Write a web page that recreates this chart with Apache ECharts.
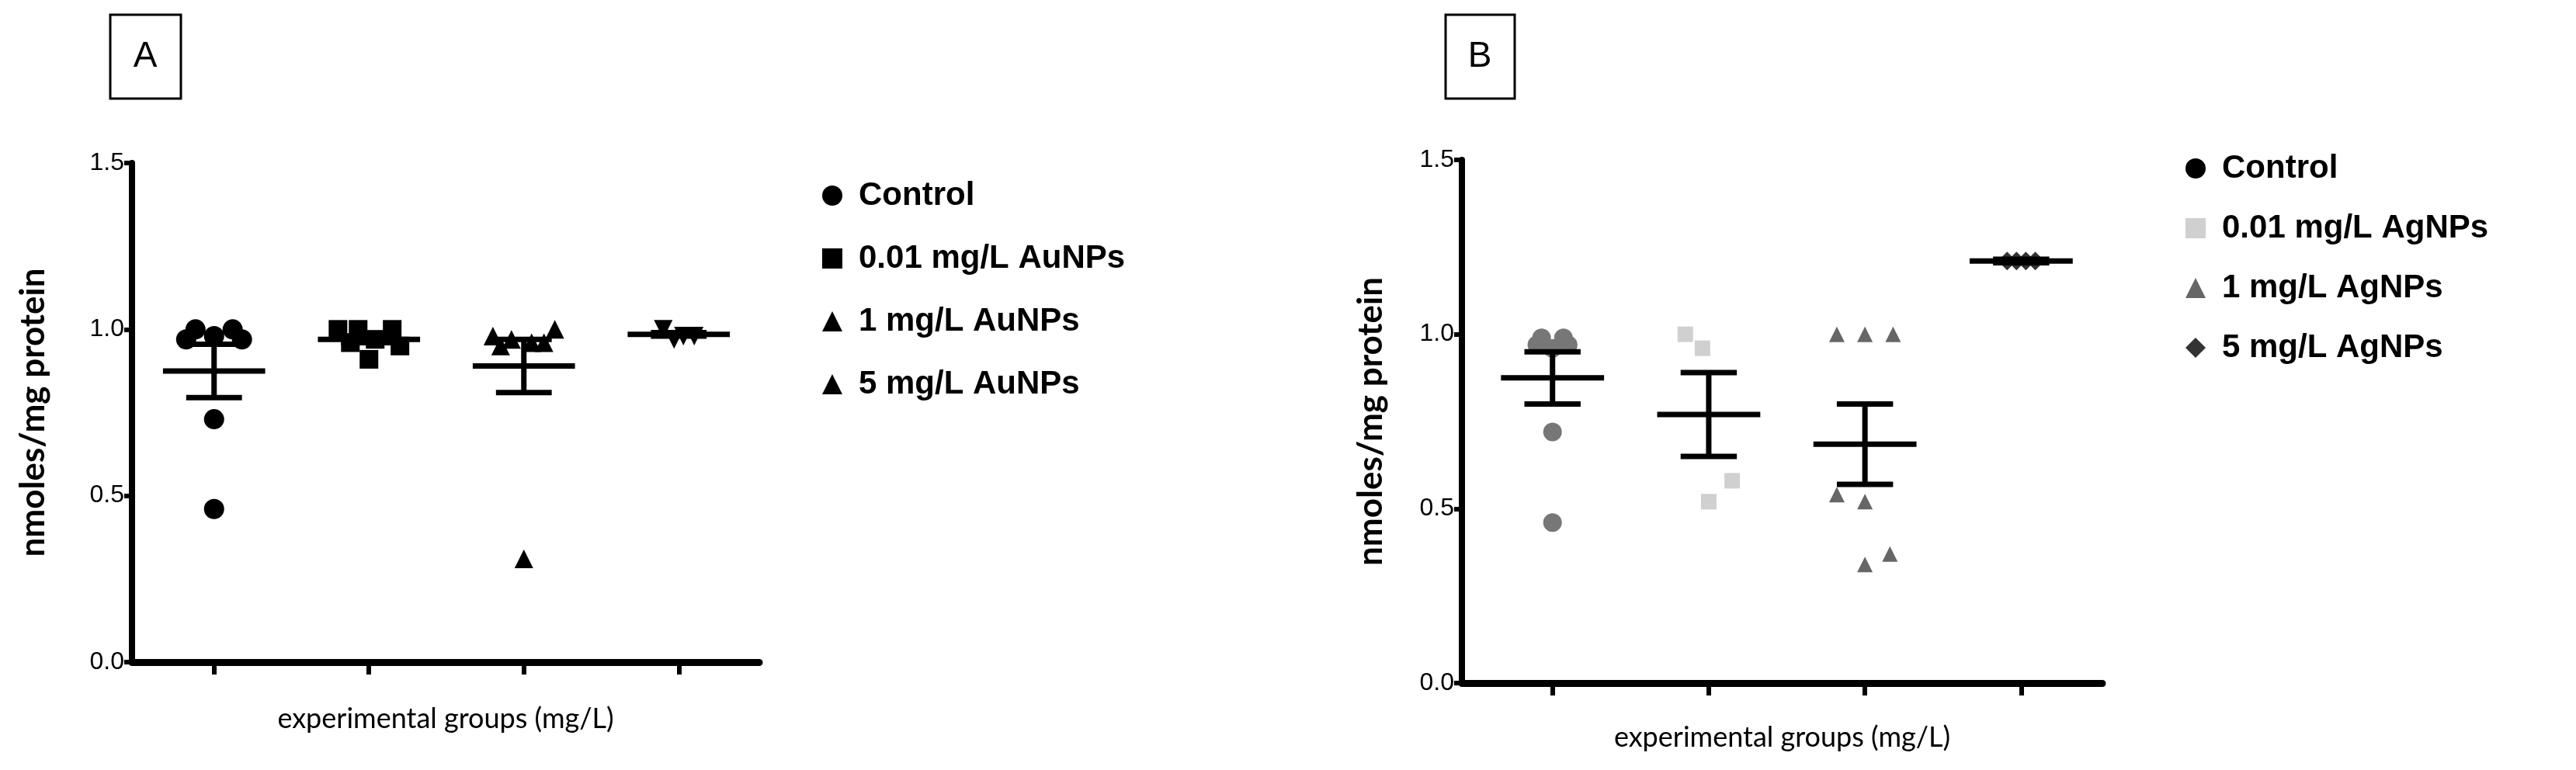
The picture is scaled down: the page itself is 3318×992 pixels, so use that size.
<!DOCTYPE html>
<html><head><meta charset="utf-8">
<script src="https://cdn.jsdelivr.net/npm/echarts@6/dist/echarts.min.js"></script>
<style>html,body{margin:0;background:#fff}#c{width:3318px;height:992px}</style></head>
<body><div id="c"></div>
<script>
const yTicks=[0,0.5,1.0,1.5];
const groupsA=['Control','0.01 mg/L AuNPs','1 mg/L AuNPs','5 mg/L AuNPs'];
const groupsB=['Control','0.01 mg/L AgNPs','1 mg/L AgNPs','5 mg/L AgNPs'];
// values per group
const a0=[1.0,1.0,0.97,0.97,0.98,0.73,0.46], a0x=[-0.12,0.12,-0.18,0.18,0,0,0];
const a1=[1.0,1.0,1.0,0.97,0.96,0.95,0.91], a1x=[-0.2,-0.07,0.15,0.04,-0.12,0.2,0];
const a2=[0.98,1.0,0.97,0.96,0.96,0.95,0.31], a2x=[-0.2,0.2,-0.08,0.05,0.13,-0.15,0];
const a3=[1.0,0.98,0.98,0.97], a3x=[-0.1,0.1,0.03,-0.03];
const aMean=[0.875,0.97,0.89,0.985], aSem=[0.08,0.01,0.08,0.005];
const b0=[0.99,0.99,0.97,0.97,0.96,0.72,0.46], b0x=[-0.07,0.07,-0.1,0.1,0,0,0];
const b1=[1.0,0.96,0.58,0.52], b1x=[-0.15,-0.04,0.15,0];
const b2=[1.0,1.0,1.0,0.54,0.52,0.34,0.37], b2x=[-0.18,0,0.18,-0.18,0,0,0.16];
const b3=[1.21,1.21,1.21,1.21], b3x=[-0.09,-0.03,0.03,0.09];
const bMean=[0.875,0.77,0.685,1.21], bSem=[0.075,0.12,0.115,0.005];

const FONT="'Liberation Sans Narrow','Liberation Sans',Arial,sans-serif";
const chart=echarts.init(document.getElementById('c'));
function pts(vals,xs,g){return vals.map((v,i)=>[g+xs[i],v]);}
function yAx(i,gap){return {type:'value',gridIndex:i,min:0,max:1.5,interval:0.5,
  name:'nmoles/mg protein',nameLocation:'middle',nameGap:gap,
  nameTextStyle:{fontSize:44,fontWeight:'bold',color:'#000',fontFamily:'Lato,sans-serif'},
  axisLine:{show:true,lineStyle:{color:'#000',width:8}},axisTick:{show:true,length:10,lineStyle:{width:6,color:'#000'}},
  axisLabel:{fontSize:32,color:'#000',fontFamily:FONT,formatter:v=>v.toFixed(1),margin:10},splitLine:{show:false}};}
function xAx(i,min,max,gap){return {type:'value',gridIndex:i,min:min,max:max,
  name:'experimental groups (mg/L)',nameLocation:'middle',nameGap:gap,
  nameTextStyle:{fontSize:36,color:'#000',fontFamily:'Lato,sans-serif'},
  axisLine:{show:true,onZero:false,lineStyle:{color:'#000',width:9}},
  axisTick:{show:true,customValues:[1,2,3,4],length:16,lineStyle:{width:6,color:'#000'}},
  axisLabel:{show:false},splitLine:{show:false}};}
function errSeries(i,means,sems){
  return {type:'custom',xAxisIndex:i,yAxisIndex:i,silent:true,z:5,
    data:means.map((m,k)=>[k+1,m,sems[k]]),
    renderItem:(p,api)=>{
      const x=api.value(0),m=api.value(1),s=api.value(2);
      const c=api.coord([x,m]),hi=api.coord([x,m+s]),lo=api.coord([x,m-s]);
      const w=api.size([0.33,0])[0],w2=api.size([0.18,0])[0];
      const st={stroke:'#000',lineWidth:7};
      return {type:'group',children:[
        {type:'line',shape:{x1:c[0]-w,y1:c[1],x2:c[0]+w,y2:c[1]},style:st},
        {type:'line',shape:{x1:c[0],y1:hi[1],x2:c[0],y2:lo[1]},style:st},
        {type:'line',shape:{x1:c[0]-w2,y1:hi[1],x2:c[0]+w2,y2:hi[1]},style:st},
        {type:'line',shape:{x1:c[0]-w2,y1:lo[1],x2:c[0]+w2,y2:lo[1]},style:st}]};
    }};
}
function sc(i,name,data,symbol,color,size,rot){
  return {type:'scatter',name,xAxisIndex:i,yAxisIndex:i,data,symbol,symbolSize:size,symbolRotate:rot||0,itemStyle:{color,opacity:1},z:3};}
const legText={fontSize:42,fontWeight:'bold',color:'#000',fontFamily:'Liberation Sans,Arial,sans-serif',padding:[0,0,0,16]};
chart.setOption({
  animation:false,
  grid:[{left:170,top:210,width:808,height:643},{left:1883,top:206,width:825,height:674}],
  xAxis:[xAx(0,0.47,4.52,55),xAx(1,0.42,4.52,52)],
  yAxis:[yAx(0,105),yAx(1,95)],
  legend:[
    {data:groupsA,left:1054,top:226,orient:'vertical',itemGap:39,itemWidth:26,itemHeight:26,textStyle:legText},
    {data:groupsB,left:2810,top:191,orient:'vertical',itemGap:35,itemWidth:26,itemHeight:26,textStyle:legText}],
  graphic:[
    {type:'rect',shape:{x:142,y:19,width:91,height:108},style:{fill:'#fff',stroke:'#000',lineWidth:3}},
    {type:'text',x:187,y:73,style:{text:'A',fontSize:46,fill:'#000',align:'center',verticalAlign:'middle',fontFamily:'Liberation Sans,Arial'}},
    {type:'rect',shape:{x:1862,y:19,width:89,height:108},style:{fill:'#fff',stroke:'#000',lineWidth:3}},
    {type:'text',x:1906,y:73,style:{text:'B',fontSize:46,fill:'#000',align:'center',verticalAlign:'middle',fontFamily:'Liberation Sans,Arial'}}],
  series:[
    sc(0,groupsA[0],pts(a0,a0x,1),'circle','#000',26),
    sc(0,groupsA[1],pts(a1,a1x,2),'rect','#000',24),
    sc(0,groupsA[2],pts(a2,a2x,3),'triangle','#000',24),
    sc(0,groupsA[3],pts(a3,a3x,4),'triangle','#000',24,180),
    errSeries(0,aMean,aSem),
    sc(1,groupsB[0],pts(b0,b0x,1),'circle','#777',24),
    sc(1,groupsB[1],pts(b1,b1x,2),'rect','#d0d0d0',20),
    sc(1,groupsB[2],pts(b2,b2x,3),'triangle','#666',20),
    sc(1,groupsB[3],pts(b3,b3x,4),'diamond','#333',24),
    errSeries(1,bMean,bSem)
  ]
});
</script></body></html>
